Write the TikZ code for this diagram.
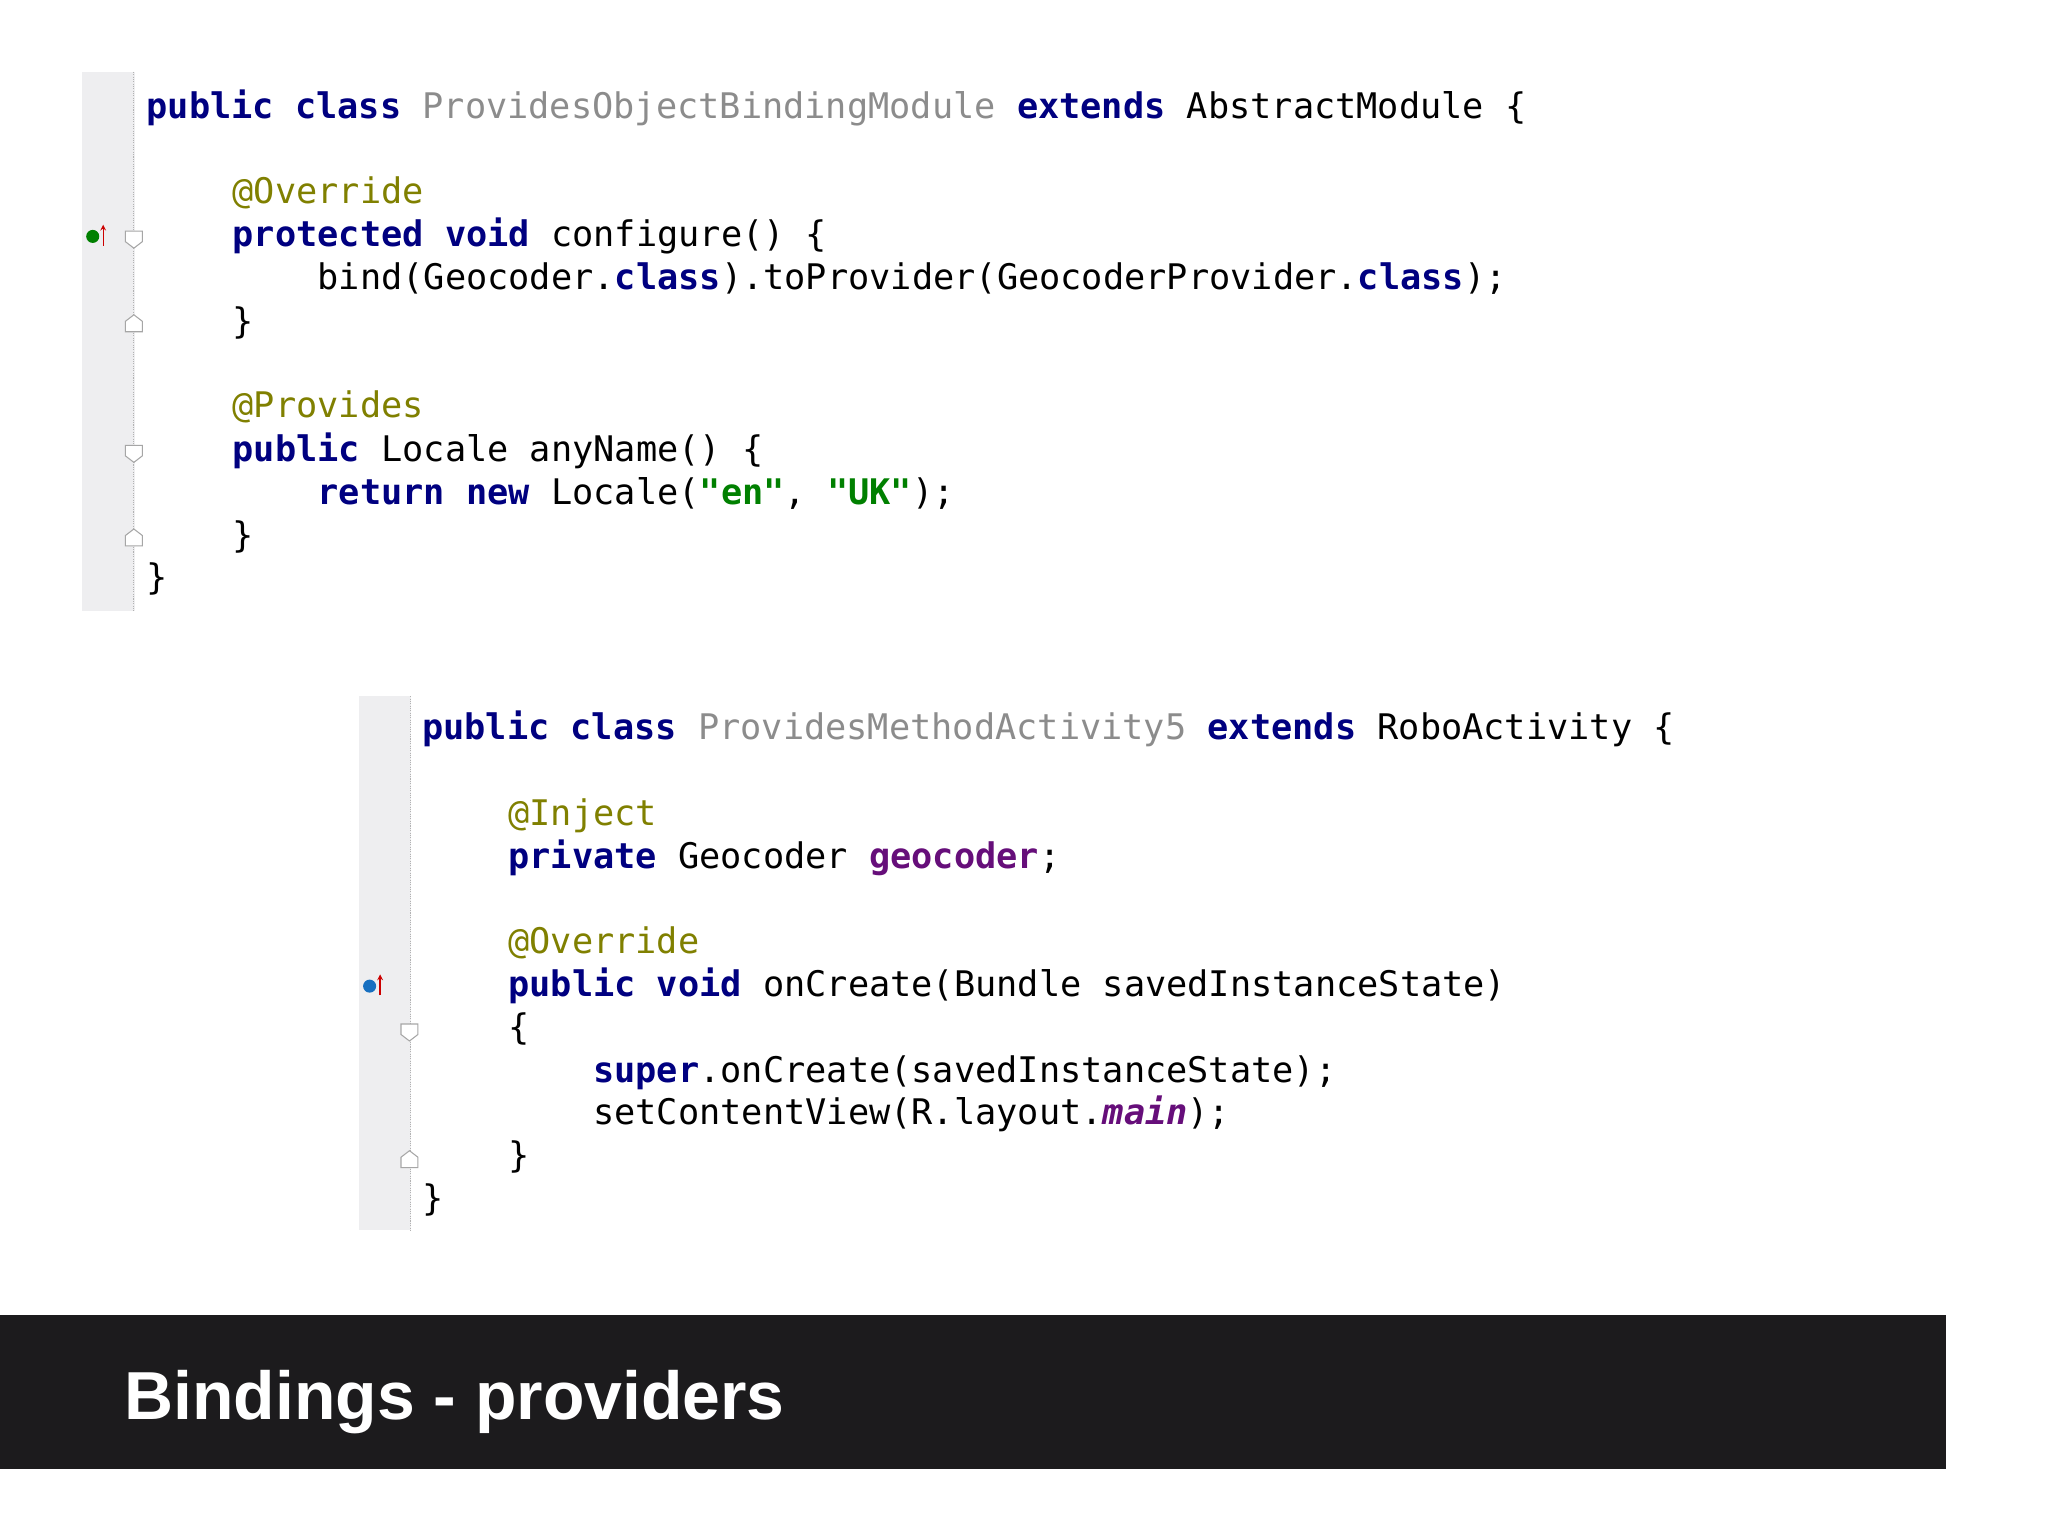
\documentclass[tikz,border=0pt]{standalone}
\usepackage{fontspec}
\setmonofont{DejaVu Sans Mono}
\setsansfont{Liberation Sans}
\definecolor{kw}{RGB}{0,0,128}
\definecolor{cls}{RGB}{140,140,140}
\definecolor{ann}{RGB}{128,128,0}
\definecolor{str}{RGB}{0,128,0}
\definecolor{fld}{RGB}{102,14,122}
\definecolor{gut}{RGB}{238,238,240}
\definecolor{bar}{RGB}{28,27,29}
\newcommand{\kw}[1]{{\bfseries\color{kw}#1}}
\newcommand{\an}[1]{{\color{ann}#1}}
\newcommand{\cn}[1]{{\color{cls}#1}}
\newcommand{\st}[1]{{\bfseries\color{str}#1}}
\newcommand{\fl}[1]{{\bfseries\color{fld}#1}}
\tikzset{code/.style={anchor=base west,inner sep=0pt,font=\ttfamily\fontsize{27}{33}\selectfont},
 gutter/.style={fill=gut,draw=none},
 guide/.style={draw=gray!60,densely dotted,line width=0.8pt},
 fold/.style={draw=gray!70,fill=white,line width=0.8pt}}
\begin{document}
\begin{tikzpicture}[x=1pt,y=-1pt]
\fill[white] (0,0) rectangle (1568,1176);
\useasboundingbox (0,0) rectangle (1568,1176);
% block 1
\fill[gutter] (63,55) rectangle (103,468);
\draw[guide] (102,55) -- (102,468);
\node[code] (a1) at (112,91) {\kw{public class} \cn{ProvidesObjectBindingModule} \kw{extends} AbstractModule \{};
\node[code] (a2) at (178,156) {\an{@Override}};
\node[code] (a3) at (178,189) {\kw{protected void} configure() \{};
\node[code] (a4) at (243,222) {bind(Geocoder.\kw{class}).toProvider(GeocoderProvider.\kw{class});};
\node[code] (a5) at (178,255) {\}};
\node[code] (a6) at (178,320) {\an{@Provides}};
\node[code] (a7) at (178,353) {\kw{public} Locale anyName() \{};
\node[code] (a8) at (243,386) {\kw{return new} Locale(\st{"en"}, \st{"UK"});};
\node[code] (a9) at (178,419) {\}};
\node[code] (a10) at (112,451) {\}};
\foreach \y in {183,347}{\draw[fold] (96,\y-6) -- (109,\y-6) -- (109,\y+2) -- (102.5,\y+7) -- (96,\y+2) -- cycle;}
\foreach \y in {248,412}{\draw[fold] (96,\y+6) -- (109,\y+6) -- (109,\y-2) -- (102.5,\y-7) -- (96,\y-2) -- cycle;}
\fill[green!50!black] (71,181) circle (5);
\draw[red!80!black,line width=1pt,-{stealth}] (79,188) -- (79,172);
% block 2
\fill[gutter] (275,533) rectangle (315,942);
\draw[guide] (314,533) -- (314,942);
\node[code] (b1) at (323,566) {\kw{public class} \cn{ProvidesMethodActivity5} \kw{extends} RoboActivity \{};
\node[code] (b2) at (389,632) {\an{@Inject}};
\node[code] (b3) at (389,665) {\kw{private} Geocoder \fl{geocoder};};
\node[code] (b4) at (389,730) {\an{@Override}};
\node[code] (b5) at (389,763) {\kw{public void} onCreate(Bundle savedInstanceState)};
\node[code] (b6) at (389,796) {\{};
\node[code] (b7) at (454,829) {\kw{super}.onCreate(savedInstanceState);};
\node[code] (b8) at (454,861) {setContentView(R.layout.\fl{\itshape main});};
\node[code] (b9) at (389,894) {\}};
\node[code] (b10) at (323,927) {\}};
\draw[fold] (307,784) -- (320,784) -- (320,792) -- (313.5,797) -- (307,792) -- cycle;
\draw[fold] (307,894) -- (320,894) -- (320,886) -- (313.5,881) -- (307,886) -- cycle;
\fill[cyan!50!blue] (283,755) circle (5);
\draw[red!80!black,line width=1pt,-{stealth}] (291,762) -- (291,746);
% bar
\fill[bar] (0,1007) rectangle (1490,1125);
\node[anchor=base west,inner sep=0pt,text=white,font=\sffamily\bfseries\fontsize{52}{60}\selectfont] (title) at (95,1087) {Bindings - providers};
\end{tikzpicture}
\end{document}
